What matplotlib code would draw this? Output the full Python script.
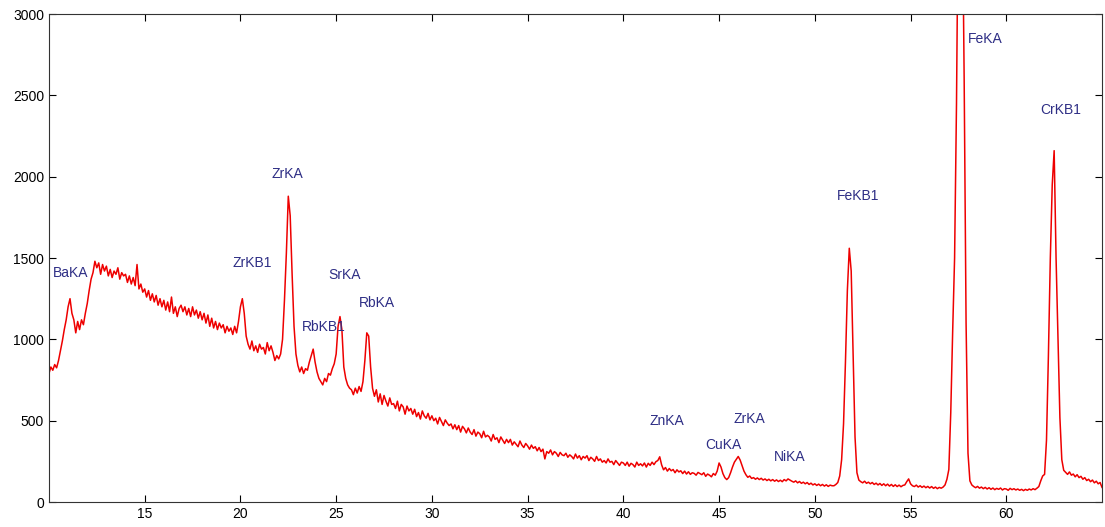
import numpy as np
import matplotlib.pyplot as plt

plt.rcParams["font.family"] = ["Liberation Sans", "DejaVu Sans"]
plt.rcParams["font.size"] = 10

# energy axis, 0.1 step from 10.0 to 65.0
energy = np.linspace(10.0, 65.0, 551)

# counts, one row per unit of x
counts = [
    790, 830, 810, 845, 825, 870, 930, 990, 1060, 1120,        # 10
    1200, 1250, 1160, 1120, 1040, 1110, 1060, 1120, 1090, 1160,  # 11
    1220, 1300, 1370, 1410, 1480, 1440, 1470, 1400, 1460, 1420,  # 12
    1450, 1390, 1430, 1380, 1420, 1400, 1440, 1370, 1410, 1390,  # 13
    1400, 1350, 1390, 1340, 1380, 1330, 1460, 1310, 1340, 1290,  # 14
    1310, 1260, 1300, 1240, 1280, 1230, 1270, 1210, 1250, 1200,  # 15
    1240, 1180, 1230, 1170, 1260, 1160, 1200, 1140, 1190, 1210,  # 16
    1170, 1200, 1150, 1190, 1140, 1200, 1150, 1180, 1130, 1170,  # 17
    1120, 1160, 1100, 1150, 1080, 1130, 1070, 1110, 1060, 1100,  # 18
    1070, 1090, 1040, 1080, 1050, 1070, 1030, 1080, 1040, 1110,  # 19
    1200, 1250, 1160, 1020, 970, 940, 990, 930, 960, 920,        # 20
    970, 940, 950, 910, 980, 930, 960, 920, 870, 900,            # 21
    880, 910, 1000, 1240, 1530, 1880, 1760, 1400, 1080, 910,     # 22
    840, 800, 830, 790, 820, 810, 860, 900, 940, 860,            # 23
    800, 760, 740, 720, 760, 740, 790, 780, 820, 850,            # 24
    910, 1080, 1140, 1060, 830, 760, 720, 700, 690, 660,         # 25
    700, 670, 710, 680, 740, 870, 1040, 1020, 830, 700,          # 26
    650, 690, 615, 665, 600, 655, 620, 590, 640, 600,            # 27
    605, 575, 620, 560, 600, 585, 540, 590, 560, 575,            # 28
    540, 570, 525, 550, 510, 560, 530, 515, 545, 505,            # 29
    530, 500, 515, 480, 520, 495, 470, 505, 485, 470,            # 30
    480, 450, 475, 445, 470, 430, 465, 450, 425, 455,            # 31
    430, 415, 445, 405, 430, 420, 395, 435, 400, 410,            # 32
    400, 375, 415, 385, 395, 365, 400, 380, 360, 385,            # 33
    365, 385, 350, 370, 355, 340, 375, 350, 335, 360,            # 34
    345, 325, 350, 330, 340, 315, 335, 310, 325, 265,            # 35
    310, 300, 320, 290, 310, 300, 280, 305, 290, 285,            # 36
    300, 275, 290, 280, 265, 295, 270, 285, 260, 280,            # 37
    270, 285, 255, 275, 265, 250, 280, 255, 265, 245,            # 38
    255, 240, 265, 245, 250, 230, 255, 240, 225, 245,            # 39
    240, 225, 245, 220, 238, 230, 215, 245, 225, 235,            # 40
    222, 240, 215, 238, 225, 245, 230, 248, 255, 278,            # 41
    228, 198, 212, 190, 206, 192, 200, 180, 198, 185,            # 42
    192, 175, 190, 172, 186, 170, 180, 176, 165, 182,            # 43
    175, 168, 180, 158, 172, 165, 155, 175, 165, 190,            # 44
    240, 215, 175, 150, 138, 150, 180, 215, 245, 262,            # 45
    280, 258, 225, 190, 168, 152, 160, 145, 150, 140,            # 46
    148, 138, 146, 135, 142, 132, 140, 130, 138, 128,            # 47
    136, 126, 134, 125, 138, 130, 142, 135, 128, 122,            # 48
    130, 118, 126, 115, 122, 112, 120, 108, 116, 105,            # 49
    112, 102, 110, 100, 108, 98, 106, 96, 104, 100,              # 50
    100, 108, 120, 160, 260, 480, 860, 1300, 1560, 1420,         # 51
    900, 400, 180, 135, 125, 118, 128, 115, 122, 112,            # 52
    120, 108, 116, 105, 114, 102, 112, 100, 110, 98,             # 53
    108, 96, 106, 95, 104, 94, 102, 105, 125, 142,               # 54
    112, 100, 95, 104, 92, 100, 90, 98, 88, 96,                  # 55
    86, 95, 84, 92, 82, 90, 85, 92, 105, 140,                    # 56
    200, 550, 1050, 1500, 2450, 3825, 4500, 3800, 2600, 1100,    # 57
    300, 130, 105, 95, 88, 96, 85, 92, 82, 90,                   # 58
    80, 88, 78, 86, 76, 84, 78, 86, 74, 82,                      # 59
    80, 72, 84, 76, 82, 74, 80, 72, 78, 70,                      # 60
    78, 72, 80, 74, 82, 76, 85, 95, 130, 160,                    # 61
    170, 380, 900, 1500, 1950, 2160, 1500, 1000, 520, 260,       # 62
    195, 182, 170, 185, 165, 172, 155, 168, 150, 158,            # 63
    140, 150, 132, 140, 125, 135, 118, 128, 112, 120,            # 64
    90,                                                          # 65
]

# peak labels
peak_names = ["BaKA", "ZrKB1", "ZrKA", "SrKA", "RbKB1", "RbKA", "ZnKA",
              "CuKA", "ZrKA", "NiKA", "FeKB1", "FeKA", "CrKB1"]
peak_x = [10.2, 19.57, 21.61, 24.59, 23.23, 26.17, 41.38,
          44.26, 45.73, 47.88, 51.16, 58.01, 61.78]
peak_y = [1408, 1469, 2016, 1396, 1077, 1222, 498,
          350, 510, 279, 1881, 2847, 2410]

fig = plt.figure(figsize=(11.05, 5.27), dpi=100)
ax = fig.add_axes([0.0443, 0.0474, 0.9530, 0.9260])

ax.plot(energy, counts, color="#ee0000", linewidth=1.1)

for name, x, y in zip(peak_names, peak_x, peak_y):
    ax.text(x, y, name, color="#2e2e85", ha="left", va="center", fontsize=10)

ax.set_xlim(10, 65)
ax.set_ylim(0, 3000)
ax.set_xticks([15, 20, 25, 30, 35, 40, 45, 50, 55, 60])
ax.set_yticks([0, 500, 1000, 1500, 2000, 2500, 3000])
ax.tick_params(direction="in", top=True, right=True, length=5, width=0.8,
               labelsize=10)
for s in ax.spines.values():
    s.set_linewidth(0.8)
    s.set_color("#333333")

fig.savefig("out.png", dpi=100)
